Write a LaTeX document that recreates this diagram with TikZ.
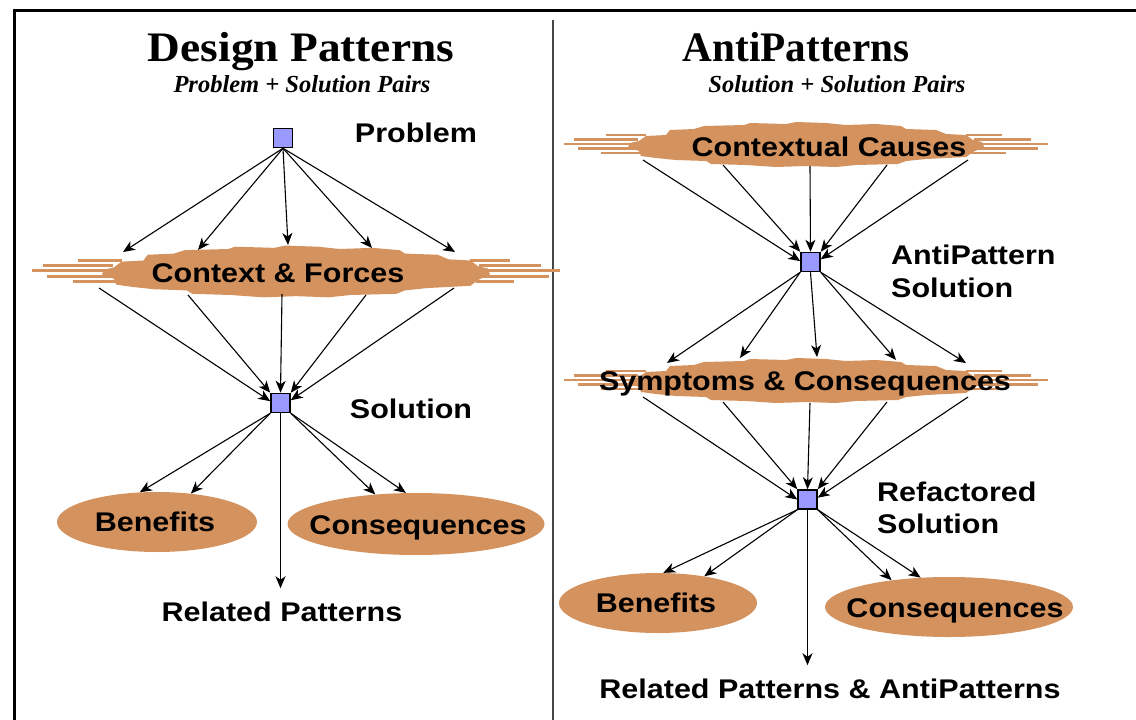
\documentclass[tikz,border=0pt]{standalone}
\usepackage{fontspec}
\setmainfont{Liberation Serif}
\newfontfamily\labfont[FakeStretch=1.13]{Liberation Sans Bold}
\usetikzlibrary{arrows.meta,shapes.geometric}
\definecolor{bandcol}{RGB}{212,146,94}
\definecolor{sqcol}{RGB}{153,153,255}
\definecolor{rulecol}{RGB}{70,70,70}

\tikzset{
  band/.style={fill=bandcol, draw=none},
  sqnode/.style={draw=black, line width=1.5pt, fill=sqcol, minimum size=19pt, inner sep=0pt},
  ellnode/.style={ellipse, fill=bandcol, draw=none, inner sep=0pt},
  lab/.style={font=\labfont\fontsize{27}{30}\selectfont, inner sep=0pt, anchor=base},
  labw/.style={lab, anchor=base west},
  ttl/.style={font=\bfseries\fontsize{42}{46}\selectfont, inner sep=0pt, anchor=base},
  sub/.style={font=\bfseries\itshape\fontsize{24.5}{28}\selectfont, inner sep=0pt, anchor=base},
  conn/.style={line width=1.1pt, -{Stealth[length=12pt,width=10pt,inset=3.5pt]}},
}

% ragged brush-stroke band with whiskers at both ends
\newcommand{\brushband}[4]{%
  \begin{scope}[shift={(#1,#2)},xscale=#3,yscale=#4]
    \fill[band] (-167,-4) -- (-160,-9) -- (-140,-10) -- (-136,-15) -- (-112,-16)
      -- (-102,-19) -- (-62,-20) -- (-56,-22) -- (-20,-21) -- (-10,-23) -- (20,-22)
      -- (40,-20) -- (70,-21) -- (95,-19) -- (100,-16) -- (130,-15) -- (140,-11)
      -- (160,-10) -- (167,-5) -- (176,-3) -- (178,2) -- (167,7) -- (160,12)
      -- (140,13) -- (120,14) -- (100,16) -- (92,19) -- (50,20) -- (30,22)
      -- (0,21) -- (-30,22) -- (-60,20) -- (-95,19) -- (-100,16) -- (-130,15)
      -- (-150,13) -- (-165,11) -- (-167,6) -- (-178,2) -- (-176,-2) -- cycle;
    \foreach \xa/\xb/\yc in {-242/-172/-1, -232/-168/-5.5, -228/-170/3.5, -205/-165/8,
        -200/-160/-10, 172/242/-1, 168/225/-5.5, 170/232/3.5, 165/200/8, 160/196/-10}
      \fill[band] (\xa,\yc-1.3) rectangle (\xb,\yc+1.3);
  \end{scope}}

\begin{document}
\begin{tikzpicture}[x=1pt,y=-1pt]
  \useasboundingbox (0,0) rectangle (1136,720);
  \fill[white] (0,0) rectangle (1136,720);

  % frame and divider
  \draw[line width=3pt] (14,720) -- (14,10) -- (1136,10);
  \draw[rulecol, line width=2pt] (553,20) -- (553,720);

  % titles
  \node[ttl] (dpt) at (301,61) {\scalebox{1.08}[1]{Design Patterns}};
  \node[sub] (dps) at (302,92) {Problem + Solution Pairs};
  \node[ttl] (apt) at (796,61) {\scalebox{0.98}[1]{AntiPatterns}};
  \node[sub] (aps) at (837,92) {Solution + Solution Pairs};

  % bands and ellipses
  \brushband{296}{272}{1.09}{1.15}
  \brushband{806}{145}{1}{1}
  \brushband{806}{381}{1}{1}

  \node[ellnode, minimum width=200pt, minimum height=60pt] (benL) at (157,522) {};
  \node[ellnode, minimum width=257pt, minimum height=62pt] (conL) at (416,524) {};
  \node[ellnode, minimum width=198pt, minimum height=60pt] (benR) at (658,603) {};
  \node[ellnode, minimum width=248pt, minimum height=60pt] (conR) at (949,607) {};

  % squares
  \node[sqnode] (prob) at (283,138) {};
  \node[sqnode] (sol)  at (280.5,403) {};
  \node[sqnode] (apsq) at (810.5,262) {};
  \node[sqnode] (ref)  at (807.5,499.5) {};

  % band edge points
  \coordinate (cfT1) at (123,252);
  \coordinate (cfT2) at (198,250);
  \coordinate (cfT3) at (288,245);
  \coordinate (cfT4) at (372,248);
  \coordinate (cfT5) at (455,252);
  \coordinate (cfB1) at (99,288);
  \coordinate (cfB2) at (188,295);
  \coordinate (cfB3) at (282,294);
  \coordinate (cfB4) at (366,295);
  \coordinate (cfB5) at (454,288);
  \coordinate (ccB1) at (643,160);
  \coordinate (ccB2) at (723,165);
  \coordinate (ccB3) at (810,166);
  \coordinate (ccB4) at (887,165);
  \coordinate (ccB5) at (968,160);
  \coordinate (smT1) at (667,363);
  \coordinate (smT2) at (740,358);
  \coordinate (smT3) at (817,357);
  \coordinate (smT4) at (896,360);
  \coordinate (smT5) at (966,363);
  \coordinate (smB1) at (643,397);
  \coordinate (smB2) at (723,402);
  \coordinate (smB3) at (810,403);
  \coordinate (smB4) at (887,402);
  \coordinate (smB5) at (968,397);

  % labels
  \node[lab] (probl) at (416,142) {Problem};
  \node[lab] (cf) at (278,282) {Context \& Forces};
  \node[lab] (soll) at (411,418) {Solution};
  \node[lab] (benLt) at (155,531) {Benefits};
  \node[lab] (conLt) at (418,534) {Consequences};
  \node[lab] (rp) at (282,621) {Related Patterns};
  \node[lab] (cc) at (829,156) {Contextual Causes};
  \node[labw] (apl1) at (891,264) {AntiPattern};
  \node[labw] (apl2) at (891,297) {Solution};
  \node[lab] (sm) at (805,390) {Symptoms \& Consequences};
  \node[labw] (refl1) at (877,501) {Refactored};
  \node[labw] (refl2) at (877,533) {Solution};
  \node[lab] (benRt) at (656,612) {Benefits};
  \node[lab] (conRt) at (955,617) {Consequences};
  \node[lab] (rpa) at (830,698) {Related Patterns \& AntiPatterns};

  % Design Patterns connectors
  \foreach \t in {cfT1,cfT2,cfT3,cfT4,cfT5}
    \draw[conn] (prob.south) -- (\t);
  \draw[conn] (cfB1) -- (sol.170);
  \draw[conn] (cfB2) -- (sol.135);
  \draw[conn] (cfB3) -- (sol.north);
  \draw[conn] (cfB4) -- (sol.45);
  \draw[conn] (cfB5) -- (sol.15);
  \draw[conn] (sol.south west) -- (benL.120);
  \draw[conn] (sol.south west) -- (benL.40);
  \draw[conn] (sol.south east) -- (conL.144);
  \draw[conn] (sol.south east) -- (conL.108);
  \draw[conn, shorten >=13pt] (sol.south) -- (sol.south |- rp.north);

  % AntiPatterns connectors
  \draw[conn] (ccB1) -- (apsq.175);
  \draw[conn] (ccB2) -- (apsq.135);
  \draw[conn] (ccB3) -- (apsq.north);
  \draw[conn] (ccB4) -- (apsq.45);
  \draw[conn] (ccB5) -- (apsq.15);
  \draw[conn] (apsq.south west) -- (smT1);
  \draw[conn] (apsq.south west) -- (smT2);
  \draw[conn] (apsq.south) -- (smT3);
  \draw[conn] (apsq.south east) -- (smT4);
  \draw[conn] (apsq.south east) -- (smT5);
  \draw[conn] (smB1) -- (ref.180);
  \draw[conn] (smB2) -- (ref.135);
  \draw[conn] (smB3) -- (ref.north);
  \draw[conn] (smB4) -- (ref.45);
  \draw[conn] (smB5) -- (ref.10);
  \draw[conn] (ref.south west) -- (benR.80);
  \draw[conn] (ref.south west) -- (benR.30);
  \draw[conn] (ref.south east) -- (conR.155);
  \draw[conn] (ref.south east) -- (conR.134);
  \draw[conn, shorten >=13pt] (ref.south) -- (ref.south |- rpa.north);

  % squares on top of the connector ends
  \node[sqnode] at (prob) {};
  \node[sqnode] at (sol) {};
  \node[sqnode] at (apsq) {};
  \node[sqnode] at (ref) {};
\end{tikzpicture}
\end{document}
